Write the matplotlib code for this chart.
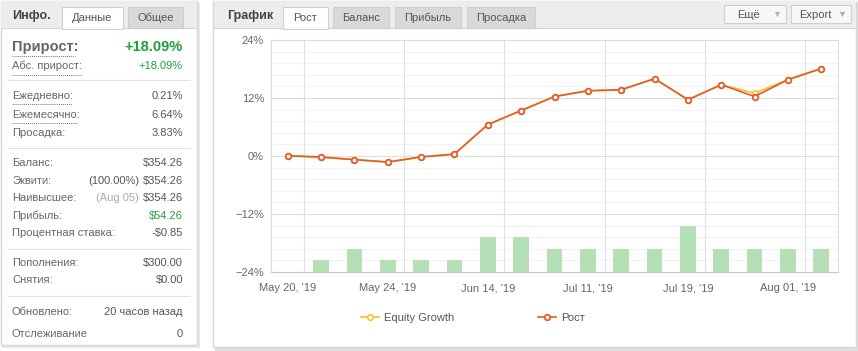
import matplotlib.pyplot as plt
from matplotlib.patches import Rectangle
from matplotlib.ticker import FixedLocator, MultipleLocator
import numpy as np

plt.rcParams['font.family'] = ['Liberation Sans', 'DejaVu Sans']

# chart data (percent growth per point, trades per point)
growth = [0.05, -0.2, -0.75, -1.25, -0.2, 0.4, 6.5, 9.4, 12.3, 13.5,
          13.7, 16.0, 11.65, 14.75, 12.3, 15.8, 18.09]
equity = [0.05, -0.3, -0.75, -1.25, -0.2, 0.4, 6.5, 9.4, 12.3, 13.5,
          13.7, 16.0, 11.65, 14.75, 13.0, 15.8, 18.09]
trades = [0, 1, 2, 1, 1, 1, 3, 3, 2, 2, 2, 2, 4, 2, 2, 2, 2]
tick_pos = [0, 3, 6, 9, 12, 15]
tick_labels = ["May 20, '19", "May 24, '19", "Jun 14, '19",
               "Jul 11, '19", "Jul 19, '19", "Aug 01, '19"]
y_ticks = [-24, -12, 0, 12, 24]

# info panel rows: (label, prefix, value, y)
info_rows = [
    ("Ежедневно:", "", "0.21%", 96),
    ("Ежемесячно:", "", "6.64%", 115),
    ("Просадка:", "", "3.83%", 133),
    ("Баланс:", "", "$354.26", 163),
    ("Эквити:", "(100.00%)", "$354.26", 181),
    ("Наивысшее:", "(Aug 05)", "$354.26", 198),
    ("Прибыль:", "", "$54.26", 216),
    ("Процентная ставка:", "", "-$0.85", 233),
    ("Пополнения:", "", "$300.00", 263),
    ("Снятия:", "", "$0.00", 280),
    ("Обновлено:", "", "20 часов назад", 312),
    ("Отслеживание", "", "0", 334),
]

GREY = '#555555'
GREEN = '#1f9e3c'

fig = plt.figure(figsize=(8.58, 3.51), dpi=100)
fig.patch.set_facecolor('white')

# background axes in pixel coordinates
bg = fig.add_axes([0, 0, 1, 1])
bg.set_xlim(0, 858)
bg.set_ylim(351, 0)
bg.axis('off')

def box(x0, y0, x1, y1, fc, ec='none', lw=1, z=1):
    bg.add_patch(Rectangle((x0, y0), x1 - x0, y1 - y0, facecolor=fc,
                           edgecolor=ec, linewidth=lw, zorder=z))

# shadows and panels
box(2, 3, 200, 348, '#e8e8e8', z=0)
box(215, 3, 858, 351, '#dedede', z=0)
box(0.5, 0.5, 197, 345, 'white', '#d6d6d6')
box(213, 0.5, 856, 347, 'white', '#d6d6d6')

# headers
box(1, 1, 196.5, 28, '#ededed', z=1.5)
box(213.5, 1, 855.5, 28, '#ededed', z=1.5)
bg.plot([1, 196.5], [28, 28], color='#d6d6d6', lw=0.8, zorder=2)
bg.plot([213.5, 855.5], [28, 28], color='#d6d6d6', lw=0.8, zorder=2)

bg.text(12, 16, "Инфо.", fontsize=9, fontweight='bold', color='#444444',
        va='center', zorder=3)
box(62, 7, 123, 29, 'white', '#d0d0d0', 0.8, 2.5)
bg.text(92.5, 18, "Данные", fontsize=8, color=GREY, ha='center', va='center', zorder=3)
box(128, 7, 183, 28, '#d9d9d9', '#cccccc', 0.8, 2.5)
bg.text(155.5, 18, "Общее", fontsize=8, color=GREY, ha='center', va='center', zorder=3)

bg.text(227, 16, "График", fontsize=9, fontweight='bold', color='#444444',
        va='center', zorder=3)
tabs = [("Рост", 283, 328, True), ("Баланс", 333, 389, False),
        ("Прибыль", 395, 461, False), ("Просадка", 467, 535, False)]
for name, x0, x1, active in tabs:
    box(x0, 7, x1, 29 if active else 28, 'white' if active else '#d9d9d9',
        '#d0d0d0', 0.8, 2.5)
    bg.text((x0 + x1) / 2, 18, name, fontsize=8, color=GREY, ha='center',
            va='center', zorder=3)

for name, x0, x1 in [("Ещё", 724, 786), ("Export", 791, 851)]:
    box(x0, 5, x1, 23, '#f7f7f7', '#cfcfcf', 0.8, 2.5)
    bg.text(x0 + 4 + (x1 - x0 - 20) / 2, 14.5, name, fontsize=8, color=GREY,
            ha='center', va='center', zorder=3)
    bg.text(x1 - 9, 14.5, "▼", fontsize=6.5, color='#b0b0b0', ha='center',
            va='center', zorder=3)

# info panel content
bg.text(12, 47, "Прирост:", fontsize=10.5, fontweight='bold', color='#666666',
        va='center', zorder=3)
bg.text(183, 47, "+18.09%", fontsize=10.5, fontweight='bold', color=GREEN,
        ha='right', va='center', zorder=3)
bg.text(12, 66, "Абс. прирост:", fontsize=8, color='#666666', va='center', zorder=3)
bg.text(183, 66, "+18.09%", fontsize=8, color=GREEN, ha='right', va='center', zorder=3)
for x1, y in [(75, 56), (82, 75), (72, 104), (78, 123)]:
    bg.plot([12, x1], [y, y], color='#777777', lw=0.7, ls=(0, (1, 1)), zorder=3)
for y in [80, 148, 249, 296]:
    bg.plot([8, 190], [y, y], color='#e3e3e3', lw=0.8, zorder=3)

for label, prefix, value, y in info_rows:
    bg.text(12, y, label, fontsize=8, color='#666666', va='center', zorder=3)
    vcol = GREEN if label == "Прибыль:" else GREY
    bg.text(183, y, value, fontsize=8, color=vcol, ha='right', va='center', zorder=3)
    if prefix:
        pcol = '#aaaaaa' if prefix.startswith("(Aug") else GREY
        bg.text(139, y, prefix, fontsize=8, color=pcol, ha='right',
                va='center', zorder=3)

# chart
ax = fig.add_axes([271 / 858, (351 - 272) / 351, (838 - 271) / 858, 232 / 351])
x = np.arange(len(growth))

ax2 = ax.twinx()
ax2.bar(x[1:], trades[1:], width=0.47, color='#b5e0b5', zorder=1)
ax2.set_ylim(0, 20)
ax2.set_yticks([])
ax2.set_xticks([])
for s in ax2.spines.values():
    s.set_visible(False)

ax.set_zorder(ax2.get_zorder() + 1)
ax.patch.set_visible(False)
ax2.patch.set_visible(True)
ax2.patch.set_facecolor('white')

ax.plot(x, equity, color='#f2c12e', lw=1.2, marker='o', ms=4,
        mfc='white', mec='#f2c12e', mew=1.1, label='Equity Growth', zorder=3)
ax.plot(x, growth, color='#e35b27', lw=1.2, marker='o', ms=4,
        mfc='white', mec='#e35b27', mew=1.3, label='Рост', zorder=4)

ax.set_xlim(-0.5, 16.5)
ax.set_ylim(-24, 24)
ax.set_yticks(y_ticks)
ax.set_yticklabels([f"{v}%".replace('-', '−') for v in y_ticks])
ax.set_xticks(tick_pos)
ax.set_xticklabels(tick_labels)
ax.tick_params(which='both', length=0, labelsize=8, labelcolor='#666666')
ax.tick_params(axis='y', pad=5)
ax.tick_params(axis='x', pad=8)

# grid drawn on the bar axes so bars sit above it
for v in np.arange(-24, 24.1, 2.4):
    major = abs(v % 12) < 1e-6 or abs(v % 12 - 12) < 1e-6
    ax2.axhline((v + 24) / 48 * 20, color='#dedede' if major else '#f2f2f2',
                lw=0.8, zorder=0)
for v in [0.5, 3.5, 6.5, 9.5, 12.5, 15.5]:
    ax2.axvline(v, color='#e0e0e0', lw=0.8, zorder=0)

for name, s in ax.spines.items():
    s.set_color('#dcdcdc')
    s.set_linewidth(0.8)
ax.spines['bottom'].set_color('#c0cad8')

leg = ax.legend(loc='center', bbox_to_anchor=(473 / 858, (351 - 318) / 351),
                bbox_transform=fig.transFigure, ncol=2, frameon=False,
                fontsize=8, handlelength=1.6, handletextpad=0.45,
                columnspacing=7.5)
for t in leg.get_texts():
    t.set_color('#555555')

fig.savefig('out.png', dpi=100)
